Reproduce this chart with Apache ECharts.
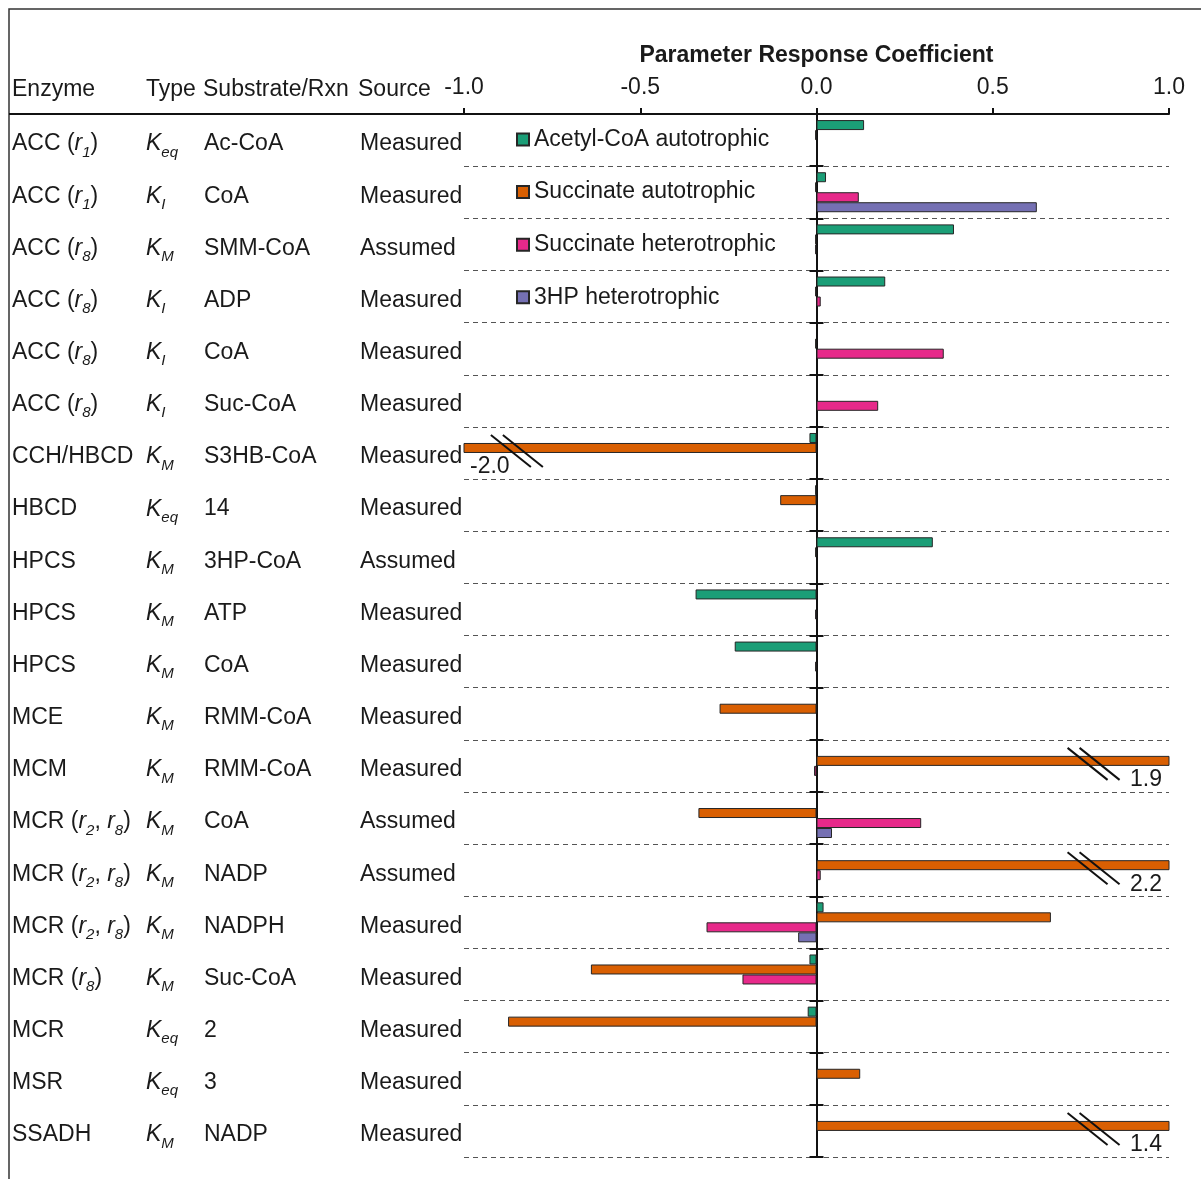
<!DOCTYPE html>
<html>
<head>
<meta charset="utf-8">
<script src="https://cdn.jsdelivr.net/npm/echarts@6/dist/echarts.min.js"></script>
<style>
  html, body { margin: 0; padding: 0; background: #ffffff; }
  #chart { width: 1201px; height: 1179px; }
</style>
</head>
<body>
<div id="chart"></div>
<script>
// Table columns, one entry per parameter row (top to bottom)
const enzymeNames = ['ACC', 'ACC', 'ACC', 'ACC', 'ACC', 'ACC', 'CCH/HBCD', 'HBCD', 'HPCS', 'HPCS',
  'HPCS', 'MCE', 'MCM', 'MCR', 'MCR', 'MCR', 'MCR', 'MCR', 'MSR', 'SSADH'];
const enzymeReactions = [['1'], ['1'], ['8'], ['8'], ['8'], ['8'], [], [], [], [],
  [], [], [], ['2', '8'], ['2', '8'], ['2', '8'], ['8'], [], [], []];
const paramTypes = ['eq', 'I', 'M', 'I', 'I', 'I', 'M', 'eq', 'M', 'M',
  'M', 'M', 'M', 'M', 'M', 'M', 'M', 'eq', 'eq', 'M'];
const substrates = ['Ac-CoA', 'CoA', 'SMM-CoA', 'ADP', 'CoA', 'Suc-CoA', 'S3HB-CoA', '14', '3HP-CoA', 'ATP',
  'CoA', 'RMM-CoA', 'RMM-CoA', 'CoA', 'NADP', 'NADPH', 'Suc-CoA', '2', '3', 'NADP'];
const sources = ['Measured', 'Measured', 'Assumed', 'Measured', 'Measured', 'Measured', 'Measured', 'Measured', 'Assumed', 'Measured',
  'Measured', 'Measured', 'Measured', 'Assumed', 'Assumed', 'Measured', 'Measured', 'Measured', 'Measured', 'Measured'];

// Parameter response coefficients per scenario
const seriesNames = ['Acetyl-CoA autotrophic', 'Succinate autotrophic', 'Succinate heterotrophic', '3HP heterotrophic'];
const acetylAutotrophic = [0.135, 0.027, 0.39, 0.195, null, null, -0.02, -0.004, 0.33, -0.343,
  -0.232, null, null, null, null, 0.02, -0.02, -0.025, null, null];
const succinateAutotrophic = [-0.004, -0.004, -0.004, -0.004, -0.004, null, -2.0, -0.103, -0.004, null,
  null, -0.275, 1.9, -0.335, 2.2, 0.665, -0.64, -0.875, 0.124, 1.4];
const succinateHeterotrophic = [null, 0.12, -0.004, 0.012, 0.361, 0.175, null, null, null, -0.004,
  -0.004, null, -0.007, 0.297, 0.012, -0.312, -0.21, null, null, null];
const hpHeterotrophic = [null, 0.625, null, null, null, null, null, null, null, null,
  null, null, null, 0.044, null, -0.052, null, null, null, null];
const seriesColors = ['#1b9e77', '#d95f02', '#e7298a', '#7570b3'];

// Value axis
const axisMin = -1.0;
const axisMax = 1.0;
const axisStep = 0.5;
// Where the "//" break sits on bars running past the axis ends
const breakAtNegative = -0.85;
const breakAtPositive = 0.786;

const FONT = '"Liberation Sans", Arial, Helvetica, sans-serif';
const FS = 23;
const TXT = '#1a1a1a';

const rowIds = enzymeNames.map((n, i) => 'row' + i);

const richStyles = {
  i: { fontStyle: 'italic', fontSize: FS, lineHeight: 32, fontFamily: FONT, color: TXT },
  s: { fontStyle: 'italic', fontSize: 15, lineHeight: 16, verticalAlign: 'bottom', fontFamily: FONT, color: TXT }
};

function enzymeLabel(i) {
  const rx = enzymeReactions[i];
  if (!rx.length) return enzymeNames[i];
  return enzymeNames[i] + ' (' + rx.map(r => '{i|r}{s|' + r + '}').join(', ') + ')';
}
function typeLabel(i) { return '{i|K}{s|' + paramTypes[i] + '}'; }

function labelAxis(margin, fmt) {
  return {
    type: 'category', data: rowIds, inverse: true, position: 'left',
    axisLine: { show: false, onZero: false }, axisTick: { show: false }, splitLine: { show: false },
    axisLabel: {
      interval: 0, margin: margin, align: 'left', fontSize: FS, lineHeight: 32,
      padding: [8, 0, 0, 0],
      fontFamily: FONT, color: TXT, rich: richStyles,
      formatter: (v, idx) => fmt(idx)
    }
  };
}

// Break marks on the clipped bars (Succinate autotrophic)
const breakData = [];
succinateAutotrophic.forEach((v, i) => {
  if (v != null && (v < axisMin || v > axisMax)) {
    breakData.push([v < 0 ? breakAtNegative : breakAtPositive, i, v < 0 ? axisMin : axisMax, v]);
  }
});

const valueSets = [acetylAutotrophic, succinateAutotrophic, succinateHeterotrophic, hpHeterotrophic];
const barSeries = seriesNames.map((name, k) => ({
  name: name, type: 'bar', yAxisIndex: 0, xAxisIndex: 0,
  data: valueSets[k], barWidth: 10, barGap: '0%', clip: true,
  itemStyle: { color: seriesColors[k], borderColor: '#262626', borderWidth: 1 },
  emphasis: { disabled: true }, animation: false
}));

const breakSeries = {
  type: 'custom', name: 'breaks', coordinateSystem: 'cartesian2d', xAxisIndex: 0, yAxisIndex: 0,
  clip: false, z: 5, silent: true, animation: false,
  data: breakData,
  renderItem: function (params, api) {
    const at = api.value(0), row = api.value(1), edge = api.value(2), val = api.value(3);
    const p = api.coord([at, row]);
    const e = api.coord([edge, row]);
    const cy = p[1] - 5 + 3;
    const ls = { stroke: '#111111', lineWidth: 2 };
    return {
      type: 'group',
      children: [
        { type: 'line', shape: { x1: p[0] - 26, y1: cy - 16, x2: p[0] + 14, y2: cy + 16 }, style: ls },
        { type: 'line', shape: { x1: p[0] - 14, y1: cy - 16, x2: p[0] + 26, y2: cy + 16 }, style: ls },
        {
          type: 'text',
          style: {
            text: val.toFixed(1), x: e[0] + (edge < 0 ? 6 : -7), y: cy + 16,
            align: edge < 0 ? 'left' : 'right', verticalAlign: 'middle',
            fontSize: FS, fontFamily: FONT, fill: TXT
          }
        }
      ]
    };
  }
};

const chart = echarts.init(document.getElementById('chart'), null, { renderer: 'canvas' });
chart.setOption({
  backgroundColor: '#ffffff',
  animation: false,
  grid: { left: 464, right: 32, top: 114, bottom: 22, containLabel: false },
  legend: {
    data: seriesNames, orient: 'vertical', left: 511, top: 123,
    itemWidth: 12, itemHeight: 12, itemGap: 29.6, icon: 'rect', selectedMode: false,
    textStyle: { fontSize: FS, fontFamily: FONT, color: TXT }
  },
  xAxis: {
    type: 'value', position: 'top', min: axisMin, max: axisMax, interval: axisStep,
    name: 'Parameter Response Coefficient', nameLocation: 'middle', nameGap: 47,
    nameTextStyle: { fontSize: FS, fontWeight: 'bold', fontFamily: FONT, color: TXT },
    axisLine: { show: true, onZero: false, lineStyle: { color: '#111', width: 2 } },
    axisTick: { show: true, length: 6, lineStyle: { color: '#111', width: 2 } },
    axisLabel: { fontSize: FS, fontFamily: FONT, color: TXT, margin: 15, formatter: v => v.toFixed(1) },
    splitLine: { show: false }
  },
  yAxis: [
    {
      type: 'category', data: rowIds, inverse: true, position: 'left',
      axisLine: { show: true, onZero: true, onZeroAxisIndex: 0, lineStyle: { color: '#111', width: 2 } },
      axisTick: { show: true, length: 7, lineStyle: { color: '#111', width: 2 } },
      axisLabel: { show: false },
      splitLine: { show: true, lineStyle: { color: '#555', type: [5, 4], width: 1 } }
    },
    {
      type: 'category', data: rowIds, inverse: true, position: 'left',
      axisLine: { show: true, onZero: true, onZeroAxisIndex: 0, lineStyle: { color: '#111', width: 2 } },
      axisTick: { show: true, inside: true, length: 7, lineStyle: { color: '#111', width: 2 } },
      axisLabel: { show: false }, splitLine: { show: false }
    },
    labelAxis(452, enzymeLabel),
    labelAxis(318, typeLabel),
    labelAxis(260, i => substrates[i]),
    labelAxis(104, i => sources[i])
  ],
  series: barSeries.concat([breakSeries]),
  graphic: [
    { type: 'rect', z: -10, silent: true, shape: { x: 9, y: 9, width: 1400, height: 1400 },
      style: { fill: null, stroke: '#333', lineWidth: 1.5 } },
    { type: 'line', silent: true, shape: { x1: 9, y1: 114, x2: 464, y2: 114 },
      style: { stroke: '#111', lineWidth: 2 } },
    { type: 'text', silent: true, style: { text: 'Enzyme', x: 12, y: 90, verticalAlign: 'middle', fontSize: FS, fontFamily: FONT, fill: TXT } },
    { type: 'text', silent: true, style: { text: 'Type', x: 146, y: 90, verticalAlign: 'middle', fontSize: FS, fontFamily: FONT, fill: TXT } },
    { type: 'text', silent: true, style: { text: 'Substrate/Rxn', x: 203, y: 90, verticalAlign: 'middle', fontSize: FS, fontFamily: FONT, fill: TXT } },
    { type: 'text', silent: true, style: { text: 'Source', x: 358, y: 90, verticalAlign: 'middle', fontSize: FS, fontFamily: FONT, fill: TXT } }
  ]
});
</script>
</body>
</html>
